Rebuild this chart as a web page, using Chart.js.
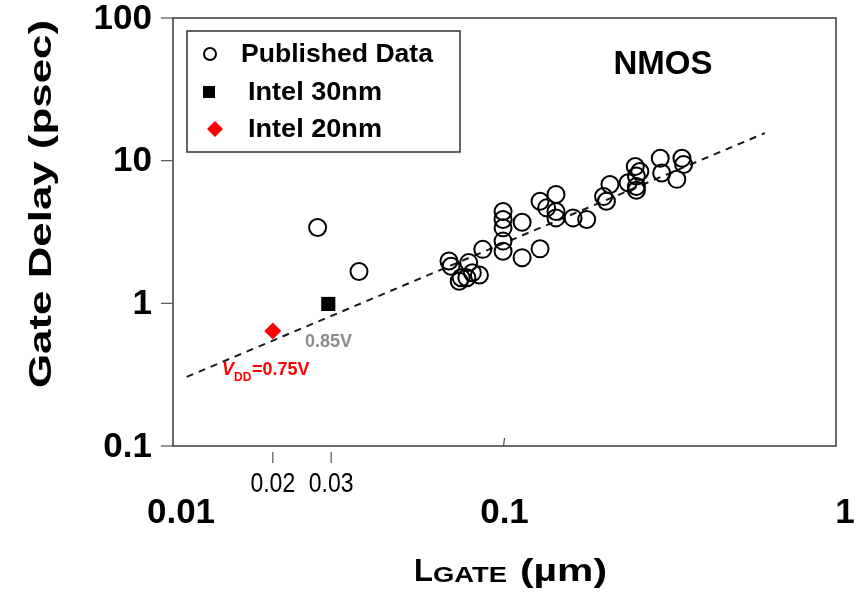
<!DOCTYPE html>
<html>
<head>
<meta charset="utf-8">
<style>
  html, body { margin: 0; padding: 0; background: #fff; }
  #wrap { width: 856px; height: 598px; }
</style>
<script src="https://cdn.jsdelivr.net/npm/chart.js@4.4.1/dist/chart.umd.min.js"></script>
</head>
<body>
<div id="wrap"><canvas id="delayChart" width="856" height="598"></canvas></div>
<script>
// Gate delay vs gate length (NMOS)

// Published data (L in um, delay in psec)
const pubL = [0.0273, 0.0364, 0.068, 0.069, 0.073, 0.074, 0.077, 0.078, 0.080, 0.084,
              0.086, 0.099, 0.099, 0.099, 0.099, 0.099, 0.113, 0.113, 0.128, 0.128,
              0.134, 0.143, 0.143, 0.143, 0.161, 0.177, 0.199, 0.203, 0.208, 0.236,
              0.248, 0.25, 0.25, 0.25, 0.256, 0.295, 0.298, 0.331, 0.343, 0.347];
const pubDelay = [3.4, 1.67, 1.98, 1.82, 1.43, 1.51, 1.51, 1.93, 1.64, 1.58,
                  2.39, 4.4, 3.87, 3.38, 2.73, 2.32, 3.7, 2.09, 2.41, 5.2,
                  4.67, 5.8, 4.4, 3.97, 3.97, 3.87, 5.6, 5.2, 6.8, 7.0,
                  9.1, 7.8, 6.6, 6.2, 8.4, 10.4, 8.2, 7.4, 10.4, 9.4];

// Intel devices
const intel30L = [0.0294];
const intel30Delay = [0.99];
const intel20L = [0.02];
const intel20Delay = [0.64];

// Trend line end points
const trendL = [0.011, 0.61];
const trendDelay = [0.305, 15.6];

// Axis tick labels
const xMajorTicks = [0.01, 0.1, 1];
const xMajorLabels = ['0.01', '0.1', '1'];
const xMinorTicks = [0.02, 0.03];
const xMinorLabels = ['0.02', '0.03'];
const yTicks = [100, 10, 1, 0.1];
const yLabels = ['100', '10', '1', '0.1'];

const legendLabels = ['Published Data', 'Intel 30nm', 'Intel 20nm'];

const FONT = "'Liberation Sans', Arial, sans-serif";

function toPoints(xs, ys) {
    return xs.map((x, i) => ({ x: x, y: ys[i] }));
}

// draw text squeezed/stretched to a given width
function fitText(ctx, str, x, y, w) {
    const m = ctx.measureText(str).width;
    ctx.save();
    ctx.translate(x, y);
    ctx.scale(w / m, 1);
    ctx.fillText(str, 0, 0);
    ctx.restore();
}

const decorations = {
    id: 'decorations',
    beforeDatasetsDraw(chart) {
        const ctx = chart.ctx;
        const a = chart.chartArea;
        const xs = chart.scales.x;
        const ys = chart.scales.y;
        ctx.save();
        ctx.strokeStyle = '#3a3a3a';
        ctx.lineWidth = 1.5;
        ctx.strokeRect(a.left, a.top, a.right - a.left, a.bottom - a.top);

        // y ticks (outside, left)
        ctx.lineWidth = 1.2;
        ctx.strokeStyle = '#555';
        yTicks.forEach(v => {
            const py = ys.getPixelForValue(v);
            ctx.beginPath();
            ctx.moveTo(a.left - 12, py);
            ctx.lineTo(a.left, py);
            ctx.stroke();
        });
        // minor x ticks, detached below axis
        xMinorTicks.forEach(v => {
            const px = xs.getPixelForValue(v);
            ctx.beginPath();
            ctx.moveTo(px, a.bottom + 6);
            ctx.lineTo(px, a.bottom + 17);
            ctx.stroke();
        });
        // tiny mark at 0.1
        const p01 = xs.getPixelForValue(0.1);
        ctx.beginPath();
        ctx.moveTo(p01 - 1, a.bottom);
        ctx.lineTo(p01, a.bottom - 8);
        ctx.stroke();
        ctx.restore();
    },
    afterDraw(chart) {
        const ctx = chart.ctx;
        const a = chart.chartArea;
        const xs = chart.scales.x;
        const ys = chart.scales.y;
        ctx.save();
        ctx.fillStyle = '#000';

        // y tick labels
        ctx.font = 'bold 35px ' + FONT;
        ctx.textAlign = 'right';
        ctx.textBaseline = 'middle';
        yTicks.forEach((v, i) => {
            ctx.fillText(yLabels[i], a.left - 21, ys.getPixelForValue(v) + 1);
        });

        // x tick labels
        ctx.textAlign = 'center';
        ctx.textBaseline = 'alphabetic';
        xMajorTicks.forEach((v, i) => {
            const off = i === 0 ? 8 : (i === 2 ? 9 : 0);
            ctx.fillText(xMajorLabels[i], xs.getPixelForValue(v) + off, 523);
        });
        ctx.font = '23px ' + FONT;
        xMinorTicks.forEach((v, i) => {
            const px = xs.getPixelForValue(v);
            ctx.save();
            ctx.translate(px, 492);
            ctx.scale(1.0, 1.2);
            ctx.fillText(xMinorLabels[i], 0, 0);
            ctx.restore();
        });

        // y axis title
        ctx.save();
        ctx.translate(42, 204);
        ctx.rotate(-Math.PI / 2);
        ctx.font = 'bold 32px ' + FONT;
        ctx.textAlign = 'center';
        ctx.textBaseline = 'middle';
        fitText(ctx, 'Gate Delay (psec)', 0, 0, 368);
        ctx.restore();

        // x axis title: L_GATE (um)
        ctx.textAlign = 'left';
        ctx.font = 'bold 31px ' + FONT;
        ctx.fillText('L', 414, 581);
        ctx.font = 'bold 22px ' + FONT;
        fitText(ctx, 'GATE', 433, 582, 74);
        ctx.font = 'bold 31px ' + FONT;
        fitText(ctx, '(\u00b5m)', 520, 581, 87);

        // NMOS
        ctx.textAlign = 'center';
        ctx.font = 'bold 33px ' + FONT;
        ctx.fillText('NMOS', 663, 74);

        // legend
        ctx.fillStyle = '#fff';
        ctx.fillRect(187, 31, 273, 121);
        ctx.strokeStyle = '#333';
        ctx.lineWidth = 1.5;
        ctx.strokeRect(187, 31, 273, 121);
        ctx.fillStyle = '#000';
        ctx.textAlign = 'left';
        ctx.textBaseline = 'middle';
        ctx.font = 'bold 26px ' + FONT;
        const ds = chart.data.datasets;
        const rowY = [54, 92, 129];
        // circle
        ctx.beginPath();
        ctx.arc(210, rowY[0], 6, 0, Math.PI * 2);
        ctx.strokeStyle = ds[0].borderColor;
        ctx.lineWidth = 2;
        ctx.stroke();
        fitText(ctx, legendLabels[0], 241, rowY[0] + 1, 192);
        // square
        ctx.fillStyle = ds[1].backgroundColor;
        ctx.fillRect(203, rowY[1] - 6, 12, 12);
        ctx.fillStyle = '#000';
        fitText(ctx, legendLabels[1], 248, rowY[1] + 1, 134);
        // diamond
        ctx.fillStyle = ds[2].backgroundColor;
        ctx.beginPath();
        ctx.moveTo(215, rowY[2] - 8);
        ctx.lineTo(223, rowY[2]);
        ctx.lineTo(215, rowY[2] + 8);
        ctx.lineTo(207, rowY[2]);
        ctx.closePath();
        ctx.fill();
        ctx.fillStyle = '#000';
        fitText(ctx, legendLabels[2], 248, rowY[2] + 1, 134);

        // voltage annotations
        ctx.textBaseline = 'alphabetic';
        ctx.fillStyle = '#8c8c8c';
        ctx.font = 'bold 18px ' + FONT;
        ctx.fillText('0.85V', 305, 347);
        ctx.fillStyle = '#ff0000';
        ctx.font = 'italic bold 18px ' + FONT;
        ctx.fillText('V', 222, 375);
        ctx.font = 'bold 12px ' + FONT;
        ctx.fillText('DD', 234, 381);
        ctx.font = 'bold 18px ' + FONT;
        ctx.fillText('=0.75V', 252, 375);

        ctx.restore();
    }
};

const ctx = document.getElementById('delayChart').getContext('2d');
const delayChart = new Chart(ctx, {
    type: 'scatter',
    data: {
        datasets: [{
            label: legendLabels[0],
            data: toPoints(pubL, pubDelay),
            pointStyle: 'circle',
            pointRadius: 8.5,
            borderColor: '#000',
            borderWidth: 2,
            backgroundColor: 'rgba(0,0,0,0)'
        }, {
            label: legendLabels[1],
            data: toPoints(intel30L, intel30Delay),
            pointStyle: 'rect',
            pointRadius: 10,
            borderWidth: 0,
            backgroundColor: '#000',
            borderColor: '#000'
        }, {
            label: legendLabels[2],
            data: toPoints(intel20L, intel20Delay),
            pointStyle: 'rectRot',
            pointRadius: 8.5,
            borderWidth: 0,
            backgroundColor: '#ff0000',
            borderColor: '#ff0000'
        }, {
            type: 'line',
            label: 'trend',
            data: toPoints(trendL, trendDelay),
            borderColor: '#1a1a1a',
            borderWidth: 2,
            borderDash: [7, 6],
            pointRadius: 0,
            fill: false,
            order: 5
        }]
    },
    options: {
        responsive: false,
        animation: false,
        devicePixelRatio: 1,
        layout: {
            padding: { left: 173, right: 20, top: 18, bottom: 152 }
        },
        scales: {
            x: { type: 'logarithmic', min: 0.01, max: 1, display: false },
            y: { type: 'logarithmic', min: 0.1, max: 100, display: false }
        },
        plugins: {
            legend: { display: false },
            tooltip: { enabled: false }
        }
    },
    plugins: [decorations]
});
</script>
</body>
</html>
